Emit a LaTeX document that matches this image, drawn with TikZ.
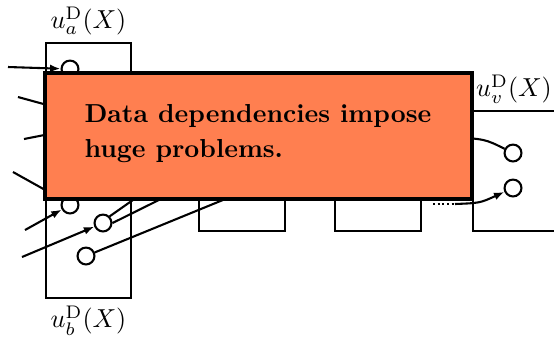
\documentclass[tikz,border=0pt]{standalone}
\usepackage{xcolor}
\usepackage{tikz}
\usetikzlibrary{arrows.meta, positioning, fit}
\definecolor{warncolor}{HTML}{FF7F50}

\begin{document}
\begin{tikzpicture}[x=0.3846pt, y=-0.3846pt,
    % Unit boxes: plain rectangles fitted to their corner coordinates.
    unit/.style={rectangle, draw, thick, inner sep=0pt},
    % Ports: small white circles sitting inside the unit boxes.
    port/.style={circle, draw, thick, fill=white,
                 inner sep=0pt, minimum size=6.5pt},
    % Unit names, set in math above or below their boxes.
    unitlabel/.style={inner sep=0.5pt},
    % Wires between ports; dep adds the arrow tip.
    wire/.style={thick},
    dep/.style={wire, -{Latex[length=4pt, width=3pt]}},
    % Warning box: laid over the whole middle of the picture.
    warnbox/.style={rectangle, draw, line width=1.6pt, fill=warncolor,
                    inner sep=0pt, minimum width=164.2pt,
                    minimum height=48.3pt},
    % Its message, left aligned inside it.
    warntext/.style={inner sep=0pt, align=left, font=\bfseries}
]
    \useasboundingbox (0,0) rectangle (554,337);

    % === Unit boxes ===
    \node[unit, fit={(46,43) (131,130)}]  (ua) {};
    \node[unit, fit={(46,135) (131,298)}] (ub) {};
    \node[unit, fit={(199,150) (285,231)}] (uc) {};
    \node[unit, fit={(335,150) (421,231)}] (ud) {};
    % u_v runs off the right edge, so only three sides are drawn.
    \draw[wire] (554,111) -| (473,231) -- (554,231);

    % === Unit names ===
    \node[unitlabel, above=2pt of ua] (lbla) {$u_a^{\mathrm{D}}(X)$};
    \node[unitlabel, below=2pt of ub] (lblb) {$u_b^{\mathrm{D}}(X)$};
    \node[unitlabel, anchor=south] (lblv) at (514,105) {$u_v^{\mathrm{D}}(X)$};

    % === Ports ===
    \node[port] (pa1) at (70,69)   {};
    \node[port] (pa2) at (70,205)  {};
    \node[port] (pb1) at (103,223) {};
    \node[port] (pb2) at (86,256)  {};
    \node[port] (pv1) at (513,153) {};
    \node[port] (pv2) at (513,188) {};

    % === Free wire ends ===
    \coordinate (ina1) at (8,67);
    \coordinate (ina2) at (25,230);
    \coordinate (inb1) at (22,257);
    \coordinate (inl1) at (18,97);
    \coordinate (hidl1) at (80,114);
    \coordinate (inl2) at (24,139);
    \coordinate (hidl2) at (80,128);
    \coordinate (inl3) at (13,172);
    \coordinate (hidl3) at (56,196);
    \coordinate (hidb1) at (150,188);
    \coordinate (hidb2) at (175,192);
    \coordinate (hidb3) at (240,193);
    \coordinate (hidv1) at (450,137);
    \coordinate (hidv2) at (455,204);
    \coordinate (dotl) at (433,204);
    \coordinate (dotr) at (460,204);

    % === Wires into u_a and u_b ===
    \draw[dep] (ina1) -- (pa1);
    \draw[dep] (ina2) -- (pa2);
    \draw[dep] (inb1) -- (pb1);
    \draw[wire] (inl1) -- (hidl1);
    \draw[wire] (inl2) -- (hidl2);
    \draw[wire] (inl3) -- (hidl3);

    % === Wires leaving u_b (they vanish under the warning box) ===
    \draw[wire] (pb1.north east) -- (hidb1);
    \draw[wire] (pb1.east) -- (hidb2);
    \draw[wire] (pb2) -- (hidb3);

    % === Wires into u_v ===
    \draw[wire] (hidv1) .. controls (485,139) .. (pv1);
    \draw[dep] (hidv2) .. controls (480,203) .. (pv2);
    \draw[thick, densely dotted] (dotl) -- (dotr);

    % === Warning box on top ===
    \node[warnbox] (warn) at (258.5,136) {};
    \node[warntext, anchor=base west] (msg) at (84,157)
        {Data dependencies impose\\[1.1pt] huge problems.};

\end{tikzpicture}
\end{document}
